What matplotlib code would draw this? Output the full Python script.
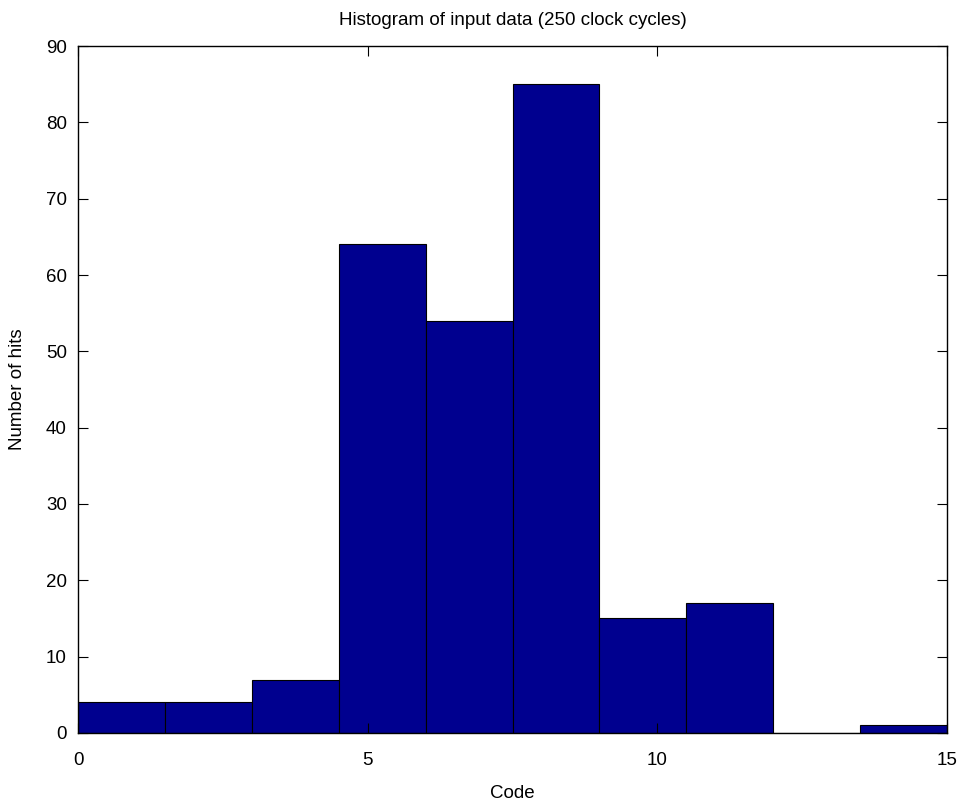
import matplotlib
matplotlib.use("Agg")
import matplotlib.pyplot as plt
import numpy as np

# histogram counts (10 bins over 0..15)
bin_edges = [0, 1.5, 3, 4.5, 6, 7.5, 9, 10.5, 12, 13.5, 15]
counts = [4, 4, 7, 64, 54, 85, 15, 17, 0, 1]
x_ticks = [0, 5, 10, 15]
y_ticks = [0, 10, 20, 30, 40, 50, 60, 70, 80, 90]

plt.rcParams['font.family'] = ['Liberation Sans', 'DejaVu Sans']

fig = plt.figure(figsize=(9.61, 8.06), dpi=100)
ax = fig.add_axes([0.0812, 0.0906, 0.9042, 0.8523])

widths = np.diff(bin_edges)
ax.bar(bin_edges[:-1], counts, width=widths, align='edge',
       color='#00008F', edgecolor='black', linewidth=0.8)

ax.set_xlim(0, 15)
ax.set_ylim(0, 90)
ax.set_xticks(x_ticks)
ax.set_yticks(y_ticks)
ax.tick_params(direction='in', top=True, right=True, length=7,
               labelsize=13.5)
ax.tick_params(axis='x', pad=14)
ax.tick_params(axis='y', pad=8)
for s in ax.spines.values():
    s.set_linewidth(1.0)

ax.set_title('Histogram of input data (250 clock cycles)', fontsize=13.5, pad=15)
ax.set_xlabel('Code', fontsize=13.5, labelpad=11)
ax.set_ylabel('Number of hits', fontsize=13.5, labelpad=14)

fig.savefig('out.png', dpi=100)
